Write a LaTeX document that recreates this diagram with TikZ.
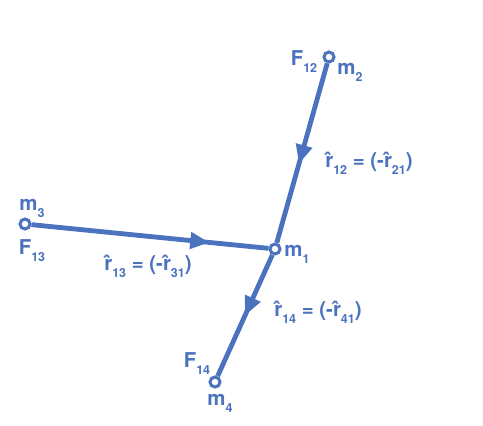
\documentclass[tikz,border=0pt]{standalone}
\usepackage{fontspec}
\setmainfont{TeX Gyre Heros}
\usetikzlibrary{positioning,arrows.meta,decorations.markings}
\definecolor{vecblue}{RGB}{74,114,190}
\newcommand{\lsub}[1]{\raisebox{-7bp}{\fontsize{12.5}{12.5}\selectfont #1}}
\newcommand{\rhat}{\^{r}}

\begin{document}
\begin{tikzpicture}[x=1bp,y=-1bp,
	every node/.style={text=vecblue,font=\fontsize{20.5}{20.5}\selectfont\bfseries,inner sep=0pt},
	mass/.style={circle,draw=vecblue,fill=white,line width=3bp,minimum size=10bp},
	link/.style={draw=vecblue,line width=4.8bp,postaction={decorate},
		decoration={markings,mark=at position #1 with {\arrow[vecblue]{Triangle[length=19bp,width=16bp]}}}}]
	\useasboundingbox (0,0) rectangle (483,425);
	% masses
	\node[mass] (m1) at (275,249) {};
	\node[mass] (m2) at (329,57) {};
	\node[mass] (m3) at (25,224) {};
	\node[mass] (m4) at (215,382) {};
	% connectors
	\draw[link=0.56] (m2) -- (m1);
	\draw[link=0.75] (m3) -- (m1);
	\draw[link=0.5] (m1) -- (m4);
	% labels
	\node (lm1) at (297,254) {m\lsub{1}};
	\node (lm2) at (350,72) {m\lsub{2}};
	\node (lm3) at (32,208) {m\lsub{3}};
	\node (lm4) at (220,403) {m\lsub{4}};
	\node (lf12) at (304,62) {F\lsub{12}};
	\node (lf13) at (32,251) {F\lsub{13}};
	\node (lf14) at (197,364) {F\lsub{14}};
	\node (r12) at (369,163) {\rhat\lsub{12} = (-\rhat\lsub{21})};
	\node (r13) at (148,266) {\rhat\lsub{13} = (-\rhat\lsub{31})};
	\node (r14) at (318,312) {\rhat\lsub{14} = (-\rhat\lsub{41})};
\end{tikzpicture}
\end{document}
